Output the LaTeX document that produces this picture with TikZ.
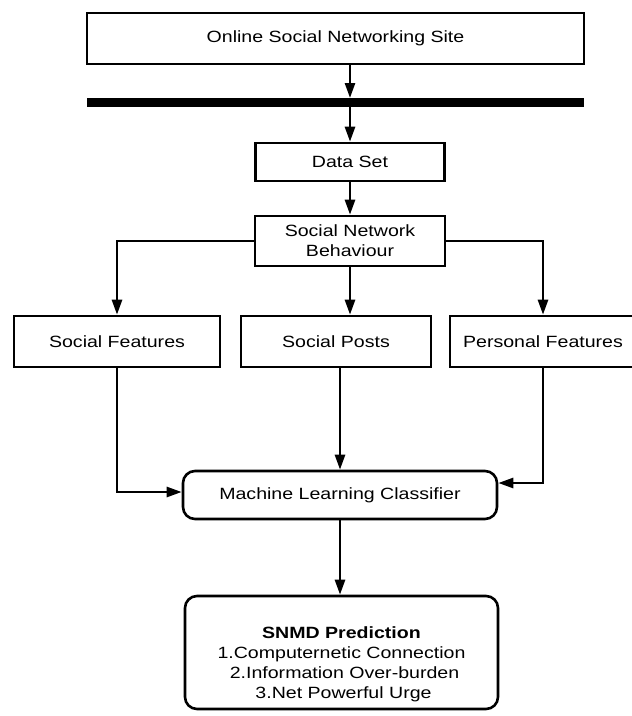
\documentclass[tikz,border=0pt]{standalone}
\usepackage{fontspec}
\setmainfont{Liberation Sans}[FakeStretch=1.2]
\usetikzlibrary{arrows.meta, calc}
\tikzstyle{stage}=[rectangle, draw=black, line width=2.6pt, inner sep=0pt, align=center, font=\fontsize{16.3}{20}\selectfont]
\tikzstyle{roundstage}=[stage, rounded corners=12pt]
\tikzstyle{flow}=[line width=2.6pt, -{Triangle[length=15pt, width=10pt]}]

\begin{document}
\begin{tikzpicture}[x=1pt, y=-1pt]
			\useasboundingbox (0,0) rectangle (632,716);

			% Source and separator bar
			\node[stage, minimum width=497pt, minimum height=51pt] (site) at (335.5, 38.5) {Online Social Networking Site};
			\coordinate (barL) at (87, 102.5);
			\coordinate (barR) at (584, 102.5);
			\draw[line width=9pt] (barL) -- (barR);

			% Data and behaviour
			\node[stage, minimum width=189pt, minimum height=38pt] (data) at (350, 162) {Data Set};
			\node[stage, minimum width=190pt, minimum height=50pt] (behav) at (350, 241) {Social Network\\Behaviour};

			% Feature boxes
			\node[stage, minimum width=206pt, minimum height=51pt] (social) at (117, 341.5) {Social Features};
			\node[stage, minimum width=190pt, minimum height=51pt] (posts) at (336, 341.5) {Social Posts};
			\node[stage, minimum width=186pt, minimum height=51pt] (personal) at (543, 341.5) {Personal Features};

			% Classifier and prediction
			\node[roundstage, minimum width=314pt, minimum height=48pt] (mlc) at (340, 495) {Machine Learning Classifier};
			\node[roundstage, minimum width=313pt, minimum height=113pt] (snmd) at (341.5, 652.5)
				{\rule{0pt}{36pt}\textbf{SNMD Prediction}\\1.Computernetic Connection\\\hspace{6pt}2.Information Over-burden\\\hspace{4pt}3.Net Powerful Urge};

			% Connectors
			\draw[flow, shorten >=4.5pt] (site.south -| data.north) -- (data.north |- barL);
			\draw[flow] (data.north |- barL) -- (data.north);
			\draw[flow] (data.south) -- (behav.north);
			\draw[flow] (behav.west) -| (social.north);
			\draw[flow] (behav.east) -| (personal.north);
			\draw[flow] (behav.south) -- (behav.south |- posts.north);
			\draw[flow] (social.south) |- ($(mlc.west)+(0,-3)$);
			\draw[flow] (posts.south -| mlc.north) -- (mlc.north);
			\draw[flow] (personal.south) |- ($(mlc.east)+(0,-12)$);
			\draw[flow] (mlc.south) -- (mlc.south |- snmd.north);
		\end{tikzpicture}
\end{document}
